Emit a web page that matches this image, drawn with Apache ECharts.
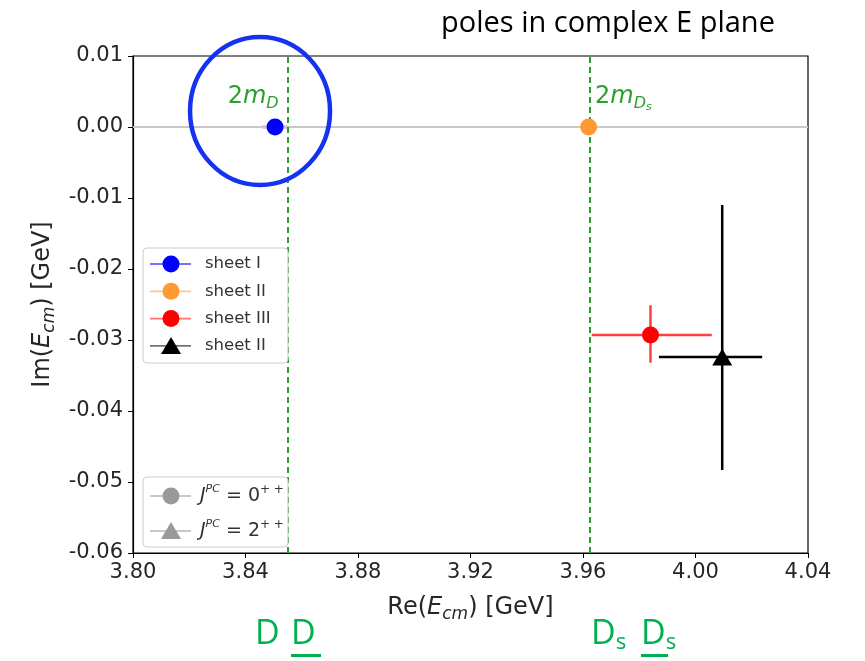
<!DOCTYPE html>
<html><head><meta charset="utf-8">
<script src="https://cdn.jsdelivr.net/npm/echarts@6/dist/echarts.min.js"></script>
<style>html,body{margin:0;padding:0;background:#fff}#c{width:865px;height:661px}</style>
</head><body><div id="c"></div>
<script>
// ---- data ----
const xTickMin = 3.80, xTickMax = 4.04, xTickStep = 0.04;
const yTickMin = -0.06, yTickMax = 0.01, yTickStep = 0.01;
const seriesNames = ['sheet I', 'sheet II', 'sheet III', 'sheet II'];
const seriesColors = ['#0000ff', '#ff9933', '#ff0000', '#000000'];
const errColors = ['#4040ff', '#ffb060', '#ff4040', '#000000'];
const seriesSymbols = ['circle', 'circle', 'circle', 'triangle'];
const poleRe = [3.8505, 3.962, 3.984, 4.0095];
const poleIm = [0.0, 0.0, -0.0293, -0.0324];
const reErrLo = [0.0045, 0, 0.0209, 0.0225];
const reErrHi = [0.0045, 0, 0.0218, 0.0142];
const imErrLo = [0, 0, 0.0039, 0.0159];
const imErrHi = [0, 0, 0.0042, 0.0214];
const thresholds = [3.855, 3.9625];
const jpcNames = ['0', '2'];
const jpcSymbols = ['circle', 'triangle'];

const tickFont = 'DejaVu Sans';
const green = '#2ca02c';
const fmt2 = v => (Math.abs(v) < 1e-9 ? 0 : v).toFixed(2);

const chart = echarts.init(document.getElementById('c'));

const errData = poleRe.map((x, i) => [x, poleIm[i], x - reErrLo[i], x + reErrHi[i], poleIm[i] - imErrLo[i], poleIm[i] + imErrHi[i], i]);

const scatterSeries = seriesNames.map((n, i) => ({
  type: 'scatter', name: n, data: [[poleRe[i], poleIm[i]]],
  symbol: seriesSymbols[i], symbolSize: seriesSymbols[i] === 'triangle' ? [20, 17] : 17,
  itemStyle: { color: seriesColors[i], opacity: 1 }, z: 6, silent: true
}));

const axisRich = {
  n: { fontFamily: tickFont, fontSize: 24, color: '#262626', lineHeight: 30 },
  i: { fontFamily: tickFont, fontSize: 24, fontStyle: 'italic', color: '#262626', lineHeight: 30 },
  s: { fontFamily: tickFont, fontSize: 17, fontStyle: 'italic', color: '#262626', lineHeight: 17, verticalAlign: 'bottom' }
};

chart.setOption({
  animation: false,
  title: {
    text: 'poles in complex E plane', left: 436, top: 4,
    textStyle: { fontFamily: 'Open Sans', fontSize: 29, fontWeight: 'normal', color: '#000' }
  },
  grid: { left: 133, right: 57, top: 56, bottom: 108, show: true, borderColor: '#000', borderWidth: 1.2, backgroundColor: 'transparent' },
  xAxis: {
    type: 'value', min: xTickMin, max: xTickMax, interval: xTickStep,
    axisLine: { show: true, onZero: false, lineStyle: { color: '#000', width: 1.2 } },
    axisTick: { show: true, inside: false, length: 5, lineStyle: { color: '#000' } },
    splitLine: { show: false },
    axisLabel: { formatter: fmt2, fontFamily: tickFont, fontSize: 21, color: '#262626', margin: 9 },
    name: '{n|Re(}{i|E}{s|cm}{n|) [GeV]}', nameLocation: 'middle', nameGap: 40,
    nameTextStyle: { fontFamily: tickFont, fontSize: 24, color: '#262626', rich: axisRich }
  },
  yAxis: {
    type: 'value', min: yTickMin, max: yTickMax, interval: yTickStep,
    axisLine: { show: true, onZero: false, lineStyle: { color: '#000', width: 1.2 } },
    axisTick: { show: true, inside: false, length: 5, lineStyle: { color: '#000' } },
    splitLine: { show: false },
    axisLabel: { formatter: fmt2, fontFamily: tickFont, fontSize: 21, color: '#262626', margin: 10 },
    name: '{n|Im(}{i|E}{s|cm}{n|) [GeV]}', nameLocation: 'middle', nameRotate: 90, nameGap: 62,
    nameTextStyle: { fontFamily: tickFont, fontSize: 24, color: '#262626', rich: axisRich }
  },
  series: [
    {
      type: 'line', data: [], z: 1, silent: true,
      markLine: {
        silent: true, symbol: 'none', animation: false, precision: 5,
        label: { show: false },
        data: [
          { yAxis: 0, lineStyle: { color: '#c8c8c8', width: 1.8, type: 'solid' } },
          ...thresholds.map(t => ({ xAxis: t, lineStyle: { color: green, width: 2, type: [6, 4] } }))
        ]
      }
    },
    {
      type: 'custom', z: 3, silent: true, clip: false,
      data: errData,
      encode: { x: 0, y: 1 },
      renderItem(params, api) {
        const x = api.value(0), y = api.value(1);
        const p0 = api.coord([api.value(2), y]), p1 = api.coord([api.value(3), y]);
        const q0 = api.coord([x, api.value(4)]), q1 = api.coord([x, api.value(5)]);
        const c = errColors[api.value(6)];
        return {
          type: 'group', children: [
            { type: 'line', shape: { x1: p0[0], y1: p0[1], x2: p1[0], y2: p1[1] }, style: { stroke: c, lineWidth: 2.5 } },
            { type: 'line', shape: { x1: q0[0], y1: q0[1], x2: q1[0], y2: q1[1] }, style: { stroke: c, lineWidth: 2.5 } }
          ]
        };
      }
    },
    ...scatterSeries
  ]
});

// ---- annotations & legends ----
const px = p => chart.convertToPixel({ gridIndex: 0 }, p);
const g = [];
const t1 = px([thresholds[0], 0.0042]);
const t2 = px([thresholds[1], 0.0042]);
const mRich = {
  n: { fontFamily: tickFont, fontSize: 24, fill: green, lineHeight: 30 },
  i: { fontFamily: tickFont, fontSize: 24, fontStyle: 'italic', fill: green, lineHeight: 30 },
  s: { fontFamily: tickFont, fontSize: 16, fontStyle: 'italic', fill: green, lineHeight: 16, verticalAlign: 'bottom' },
  ss: { fontFamily: tickFont, fontSize: 11, fontStyle: 'italic', fill: green, lineHeight: 11, verticalAlign: 'bottom' }
};
g.push({ type: 'text', x: t1[0] - 9, y: t1[1], z: 10, style: { text: '{n|2}{i|m}{s|D}', rich: mRich, align: 'right', verticalAlign: 'middle' } });
g.push({ type: 'text', x: t2[0] + 5, y: t2[1], z: 10, style: { text: '{n|2}{i|m}{s|D}{ss|s}', rich: mRich, align: 'left', verticalAlign: 'middle' } });

// blue highlight ellipse around sheet I pole
const bp = px([poleRe[0], poleIm[0]]);
g.push({ type: 'ellipse', z: 20, shape: { cx: bp[0] - 15, cy: bp[1] - 16, rx: 70, ry: 74 }, style: { fill: 'none', stroke: '#1432f0', lineWidth: 4.5 } });

// legend 1
g.push({ type: 'rect', z: 8, shape: { x: 143, y: 248, width: 145, height: 115, r: 4 }, style: { fill: 'rgba(255,255,255,0.85)', stroke: '#cccccc', lineWidth: 1 } });
seriesNames.forEach((n, i) => {
  const y = 264 + i * 27.3;
  g.push({ type: 'line', z: 9, shape: { x1: 150, y1: y, x2: 191, y2: y }, style: { stroke: seriesColors[i], opacity: 0.55, lineWidth: 1.8 } });
  if (seriesSymbols[i] === 'circle') {
    g.push({ type: 'circle', z: 9, shape: { cx: 171, cy: y, r: 8.5 }, style: { fill: seriesColors[i] } });
  } else {
    g.push({ type: 'polygon', z: 9, shape: { points: [[171, y - 9], [161, y + 8], [181, y + 8]] }, style: { fill: seriesColors[i] } });
  }
  g.push({ type: 'text', z: 9, x: 205, y: y, style: { text: n, fontFamily: tickFont, fontSize: 16.5, fill: '#333', verticalAlign: 'middle' } });
});

// legend 2
g.push({ type: 'rect', z: 8, shape: { x: 143, y: 477, width: 145, height: 70, r: 4 }, style: { fill: 'rgba(255,255,255,0.85)', stroke: '#cccccc', lineWidth: 1 } });
const jRich = {
  j: { fontFamily: tickFont, fontSize: 19, fontStyle: 'italic', fill: '#333', lineHeight: 24 },
  p: { fontFamily: tickFont, fontSize: 11, fontStyle: 'italic', fill: '#333', lineHeight: 11, verticalAlign: 'top' },
  n: { fontFamily: tickFont, fontSize: 19, fill: '#333', lineHeight: 24 },
  q: { fontFamily: tickFont, fontSize: 12, fill: '#333', lineHeight: 12, verticalAlign: 'top' }
};
jpcNames.forEach((v, i) => {
  const y = 496 + i * 35;
  g.push({ type: 'line', z: 9, shape: { x1: 150, y1: y, x2: 191, y2: y }, style: { stroke: '#999', opacity: 0.55, lineWidth: 1.8 } });
  if (jpcSymbols[i] === 'circle') {
    g.push({ type: 'circle', z: 9, shape: { cx: 171, cy: y, r: 8.5 }, style: { fill: '#999' } });
  } else {
    g.push({ type: 'polygon', z: 9, shape: { points: [[171, y - 9], [161, y + 8], [181, y + 8]] }, style: { fill: '#999' } });
  }
  g.push({ type: 'text', z: 9, x: 200, y: y, style: { text: '{j|J}{p|PC}{n| = ' + v + '}{q|+ +}', rich: jRich, verticalAlign: 'middle' } });
});

// bottom meson labels
const bFont = 'Open Sans';
const mesonGreen = '#00b050';
const bRich = {
  d: { fontFamily: bFont, fontSize: 34, fill: mesonGreen, lineHeight: 40 },
  s: { fontFamily: bFont, fontSize: 22, fill: mesonGreen, lineHeight: 22, verticalAlign: 'bottom' }
};
g.push({ type: 'text', z: 9, x: 255, y: 634, style: { text: '{d|D}', rich: bRich, verticalAlign: 'middle' } });
g.push({ type: 'text', z: 9, x: 291, y: 634, style: { text: '{d|D}', rich: bRich, verticalAlign: 'middle' } });
g.push({ type: 'rect', z: 9, shape: { x: 291, y: 654, width: 30, height: 3 }, style: { fill: mesonGreen } });
g.push({ type: 'text', z: 9, x: 591, y: 634, style: { text: '{d|D}{s|s}', rich: bRich, verticalAlign: 'middle' } });
g.push({ type: 'text', z: 9, x: 641, y: 634, style: { text: '{d|D}{s|s}', rich: bRich, verticalAlign: 'middle' } });
g.push({ type: 'rect', z: 9, shape: { x: 641, y: 654, width: 27, height: 3 }, style: { fill: mesonGreen } });

chart.setOption({ graphic: g });
</script>
</body></html>
